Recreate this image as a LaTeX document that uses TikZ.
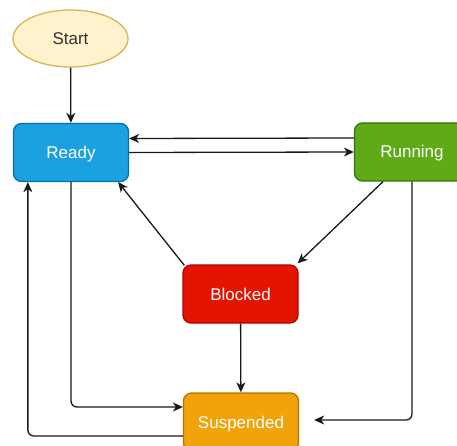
\documentclass[tikz,border=0pt]{standalone}
\usepackage{fontspec}
\setmainfont{Liberation Sans}
\usetikzlibrary{shapes.geometric,arrows.meta}
\definecolor{startfill}{HTML}{FFF2CC}
\definecolor{startline}{HTML}{D6B656}
\definecolor{readyfill}{HTML}{1BA1E2}
\definecolor{readyline}{HTML}{006EAF}
\definecolor{runfill}{HTML}{60A917}
\definecolor{runline}{HTML}{2D7600}
\definecolor{blockfill}{HTML}{E51400}
\definecolor{blockline}{HTML}{B20000}
\definecolor{suspfill}{HTML}{F0A30A}
\definecolor{suspline}{HTML}{BD7000}
\definecolor{txtdark}{HTML}{333333}
\tikzset{
  statebox/.style={draw, line width=1.3pt, rounded corners=8pt, minimum width=115pt, minimum height=58pt, text=white, font=\fontsize{17}{20}\selectfont, inner sep=0pt, text height=12pt, text depth=0pt},
  startnode/.style={ellipse, draw=startline, fill=startfill, line width=1.3pt, minimum width=115pt, minimum height=57pt, text=txtdark, font=\fontsize{17}{20}\selectfont, inner sep=0pt, text height=12pt, text depth=0pt},
  conn/.style={draw=black!90, line width=1.3pt, -{Stealth[length=10pt,width=9pt,inset=3pt]}, rounded corners=6pt},
}
\begin{document}
\begin{tikzpicture}[x=1pt,y=-1pt]
\useasboundingbox (0,0) rectangle (457,446);
\node[startnode] (start) at (70.5,38.5) {Start};
\node[statebox, fill=readyfill, draw=readyline] (ready) at (71,152.5) {Ready};
\node[statebox, fill=runfill, draw=runline] (running) at (412,152) {Running};
\node[statebox, fill=blockfill, draw=blockline] (blocked) at (240.5,294) {Blocked};
\node[statebox, fill=suspfill, draw=suspline] (susp) at (241,422) {Suspended};

\draw[conn] (start) -- (ready);
\draw[conn] ([yshift=14pt]running.west) -- ([yshift=14pt]ready.east);
\draw[conn] (ready.east) -- (running.west);
\draw[conn] ([xshift=-29pt]running.south) -- ([xshift=-1pt,yshift=1pt]blocked.north east);
\draw[conn] ([xshift=2pt,yshift=-1pt]blocked.north west) -- ([xshift=-11pt]ready.south east);
\draw[conn] (blocked) -- (susp);
\draw[conn] (ready.south) |- ([yshift=15pt]susp.west);
\draw[conn] ([yshift=-14pt]susp.west) -| ([xshift=15pt]ready.south west);
\draw[conn, shorten >=15pt] (running.south) |- ([yshift=2pt]susp.east);
\end{tikzpicture}
\end{document}
